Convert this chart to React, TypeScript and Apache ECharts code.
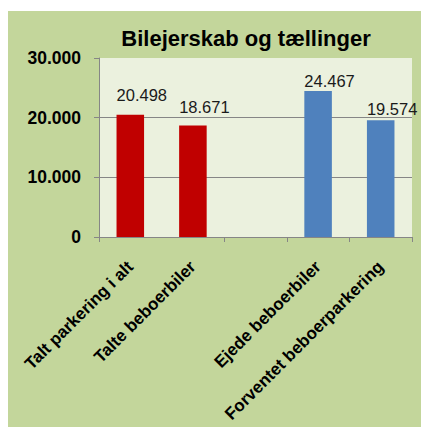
import React, { useEffect, useRef } from "react";
import * as echarts from "echarts";

const titleText = "Bilejerskab og tællinger";
const categories = [
  "Talt parkering i alt",
  "Talte beboerbiler",
  "",
  "Ejede beboerbiler",
  "Forventet beboerparkering",
];
const values: (number | null)[] = [20498, 18671, null, 24467, 19574];
const yTicks = [0, 10000, 20000, 30000];

const barColors = ["#c00000", "#c00000", "#c00000", "#4f81bd", "#4f81bd"];
const labelLift = [20, 19, 0, 10, 11];
const FONT = "'Liberation Sans', Arial, sans-serif";

const fmt = (v: number) =>
  String(Math.round(v)).replace(/\B(?=(\d{3})+(?!\d))/g, ".");

export default function App() {
  const ref = useRef<HTMLDivElement>(null);
  useEffect(() => {
    if (!ref.current) return;
    const chart = echarts.init(ref.current, undefined, { renderer: "svg" });
    chart.setOption({
      animation: false,
      backgroundColor: "#c3d69b",
      title: {
        text: titleText,
        left: 238,
        top: 16,
        textAlign: "center",
        padding: 0,
        textStyle: {
          fontFamily: FONT,
          fontSize: 22,
          fontWeight: "bold",
          color: "#000000",
        },
      },
      grid: {
        left: 91,
        top: 47,
        width: 313,
        height: 179,
        show: true,
        backgroundColor: "#ebf1de",
        borderWidth: 0,
        containLabel: false,
      },
      xAxis: {
        type: "category",
        data: categories,
        boundaryGap: true,
        axisLine: { show: true, lineStyle: { color: "#868686", width: 1 } },
        axisTick: {
          show: true,
          length: 5,
          interval: (i: number) => i !== 1,
          lineStyle: { color: "#868686" },
        },
        axisLabel: {
          interval: 0,
          rotate: 45,
          margin: 27,
          fontFamily: FONT,
          fontSize: 17,
          fontWeight: "bold",
          color: "#000000",
        },
        splitLine: { show: false },
      },
      yAxis: {
        type: "value",
        min: yTicks[0],
        max: yTicks[yTicks.length - 1],
        interval: yTicks[1] - yTicks[0],
        axisLine: { show: true, lineStyle: { color: "#868686", width: 1 } },
        axisTick: { show: true, length: 5, lineStyle: { color: "#868686" } },
        axisLabel: {
          margin: 18,
          fontFamily: FONT,
          fontSize: 17.5,
          fontWeight: "bold",
          color: "#000000",
          formatter: (v: number) => fmt(v),
        },
        splitLine: {
          show: true,
          lineStyle: {
            color: ["#868686", "#868686", "#868686", "rgba(0,0,0,0)"],
            width: 1,
          },
        },
      },
      series: [
        {
          type: "bar",
          barWidth: "44%",
          data: values.map((v, i) => ({
            value: v,
            itemStyle: { color: barColors[i] },
            label: { position: [0, -labelLift[i]] },
          })),
          label: {
            show: true,
            align: "left",
            verticalAlign: "middle",
            fontFamily: FONT,
            fontSize: 16.5,
            color: "#1a1a1a",
            formatter: (p: any) => (p.value == null ? "" : fmt(p.value)),
          },
        },
      ],
    });
    return () => chart.dispose();
  }, []);
  return (
    <div
      ref={ref}
      style={{ position: "fixed", left: 8, top: 11, width: 413, height: 416 }}
    />
  );
}
